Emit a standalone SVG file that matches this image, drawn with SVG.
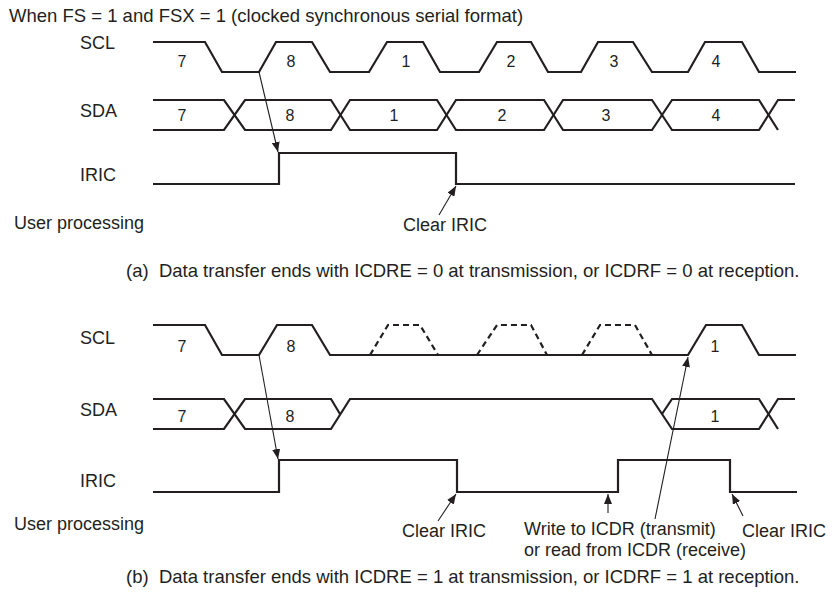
<svg xmlns="http://www.w3.org/2000/svg" width="832" height="592" viewBox="0 0 832 592">
<defs>
<style>
text{font-family:"Liberation Sans",Arial,Helvetica,sans-serif;fill:#231f20}
.t{font-size:18px}
.c{font-size:18.5px}
.d{font-size:16px;text-anchor:middle}
.w{fill:none;stroke:#231f20;stroke-width:2.2;stroke-linejoin:miter}
.dash{fill:none;stroke:#231f20;stroke-width:2.2;stroke-dasharray:6,4}
.a{fill:none;stroke:#231f20;stroke-width:1.1;marker-end:url(#ah)}
</style>
<marker id="ah" viewBox="0 0 10 8" refX="10" refY="4" markerWidth="10" markerHeight="8" markerUnits="userSpaceOnUse" orient="auto">
<path d="M0,0 L10,4 L0,8 Z" fill="#231f20"/>
</marker>
</defs>
<rect width="832" height="592" fill="#fff"/>
<text class="c" x="9" y="22">When FS = 1 and FSX = 1 (clocked synchronous serial format)</text>

<g id="panel-a">
<g id="a-labels">
<text class="t" x="80" y="49">SCL</text>
<text class="t" x="80" y="117">SDA</text>
<text class="t" x="80" y="181">IRIC</text>
<text class="t" x="14" y="229">User processing</text>
</g>
<g id="a-scl">
<path class="w" d="M153,42 H205 L222,72 H259 L276,42 H312 L330,72 H369 L387,42 H423 L440,72 H479 L497,42 H531 L548,72 H581 L598,42 H633 L652,72 H688 L705,42 H742 L759,72 H796"/>
<text class="d" x="182" y="67">7</text><text class="d" x="291" y="67">8</text><text class="d" x="406" y="67">1</text>
<text class="d" x="511" y="67">2</text><text class="d" x="614" y="67">3</text><text class="d" x="716" y="67">4</text>
</g>
<g id="a-sda">
<path class="w" d="M153,100 H224 L245,130 H331 L350,100 H437 L456,130 H544 L563,100 H652 L672,130 H759 L778,100 H795"/>
<path class="w" d="M153,130 H224 L245,100 H331 L350,130 H437 L456,100 H544 L563,130 H652 L672,100 H759 L778,130"/>
<text class="d" x="182" y="121">7</text><text class="d" x="290" y="121">8</text><text class="d" x="394" y="121">1</text>
<text class="d" x="502" y="121">2</text><text class="d" x="606" y="121">3</text><text class="d" x="716" y="121">4</text>
</g>
<g id="a-iric">
<path class="w" d="M153,184 H279 V153 H456 V184 H795"/>
</g>
<g id="a-clear">
<text class="t" x="403" y="231">Clear IRIC</text>
</g>
<text class="c" x="126" y="277" xml:space="preserve">(a)  Data transfer ends with ICDRE = 0 at transmission, or ICDRF = 0 at reception.</text>
</g>

<g id="panel-b">
<g id="b-labels">
<text class="t" x="80" y="344">SCL</text>
<text class="t" x="80" y="416">SDA</text>
<text class="t" x="80" y="487">IRIC</text>
<text class="t" x="14" y="530">User processing</text>
</g>
<g id="b-scl">
<path class="w" d="M153,325 H205 L222,355 H259 L277,325 H312 L330,355 H688 L706,325 H742 L759,355 H796"/>
<path class="dash" d="M370,355 L388,325 H420 L438,355 M477,355 L497,325 H531 L547,355 M582,355 L600,325 H635 L652,355"/>
<text class="d" x="182" y="352">7</text><text class="d" x="291" y="352">8</text><text class="d" x="715" y="352">1</text>
</g>
<g id="b-sda">
<path class="w" d="M153,399 H224 L245,429 H331 L350,399 H652 L672,429 H759 L778,399 H795"/>
<path class="w" d="M153,429 H224 L245,399 H331 L340,414"/>
<path class="w" d="M662,414 L672,399 H759 L778,429"/>
<text class="d" x="182" y="422">7</text><text class="d" x="290" y="422">8</text><text class="d" x="715" y="422">1</text>
</g>
<g id="b-iric">
<path class="w" d="M153,492 H279 V460 H457 V492 H618 V460 H730 V492 H797"/>
</g>
<g id="b-clear1"><text class="t" x="402" y="537">Clear IRIC</text></g>
<g id="b-write">
<text class="t"><tspan x="524" y="535">Write to ICDR (transmit)</tspan><tspan x="524" y="556">or read from ICDR (receive)</tspan></text>
</g>
<g id="b-clear2"><text class="t" x="742" y="537">Clear IRIC</text></g>
<text class="c" x="126" y="583" xml:space="preserve">(b)  Data transfer ends with ICDRE = 1 at transmission, or ICDRF = 1 at reception.</text>
</g>

<g id="connectors">
<path class="a" d="M259,72 L278,152"/>
<path class="a" d="M439,215 L456,186"/>
<path class="a" d="M259,355 L278,459"/>
<path class="a" d="M438,521 L456,494"/>
<path class="a" d="M608,513 L608,494"/>
<path class="a" d="M655,519 L688,357"/>
<path class="a" d="M743,516 L732,494"/>
</g>
</svg>
